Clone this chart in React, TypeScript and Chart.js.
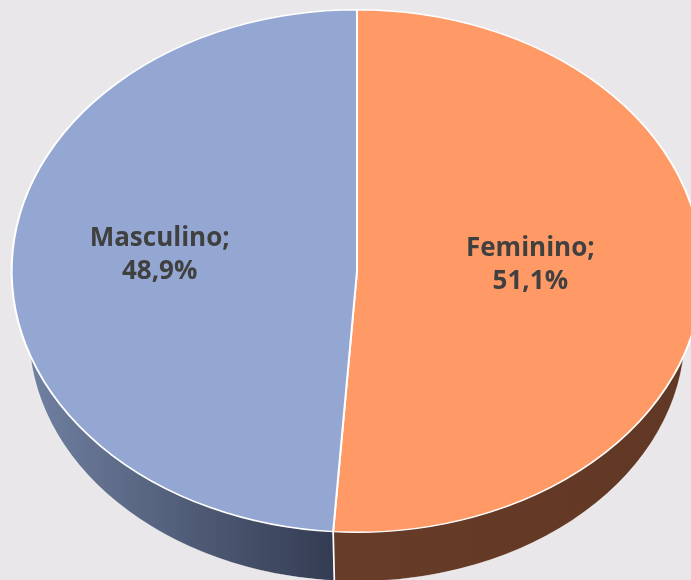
import { useEffect, useRef } from 'react';
import { Chart, registerables } from 'chart.js';

Chart.register(...registerables);

// ---- data ----
const categories = ['Feminino', 'Masculino'];
const values = [51.1, 48.9];
const valueLabels = values.map((v) => `${v.toFixed(1).replace('.', ',')}%`);

// ---- styles ----
const topColors = ['#ff9a66', '#94a7d2'];
const sideColors = [
  ['#673c28', '#613825'],
  ['#7484a5', '#333c52'],
];
const BG = '#e9e7ea';
const ASPECT = 345 / 261; // horizontal stretch of the tilted pie
const SIDE_DY = 62; // bottom rim centre drop
const SIDE_K = 0.95; // bottom rim shrink (perspective)
const LABEL_F = 0.537;
const LABEL_DX = -12;
const LABEL_DY = -13;

const pie3d = {
  id: 'pie3d',
  beforeDatasetsDraw(chart: any) {
    const meta = chart.getDatasetMeta(0);
    const arcs = meta.data;
    if (!arcs.length) return;
    const { x: cx, y: cy, outerRadius: R } = arcs[0];
    const ctx: CanvasRenderingContext2D = chart.ctx;
    ctx.save();
    ctx.translate(cx, cy);
    ctx.scale(ASPECT, 1);
    ctx.translate(-cx, -cy);
    const R2 = R * SIDE_K;
    const cy2 = cy + SIDE_DY;
    const dividers: number[] = [];
    arcs.forEach((arc: any, i: number) => {
      const s = arc.startAngle;
      const e = arc.endAngle;
      for (const off of [0, 2 * Math.PI, -2 * Math.PI]) {
        const a1 = Math.max(s, off);
        const a2 = Math.min(e, off + Math.PI);
        if (a2 <= a1) continue;
        ctx.beginPath();
        ctx.arc(cx, cy, R, a1, a2);
        ctx.lineTo(cx + R2 * Math.cos(a2), cy2 + R2 * Math.sin(a2));
        ctx.arc(cx, cy2, R2, a2, a1, true);
        ctx.closePath();
        const xl = cx + R * Math.cos(a2);
        const xr = cx + R * Math.cos(a1);
        const g = ctx.createLinearGradient(Math.min(xl, xr), 0, Math.max(xl, xr), 0);
        g.addColorStop(0, sideColors[i][0]);
        g.addColorStop(1, sideColors[i][1]);
        ctx.fillStyle = g;
        ctx.fill();
        // light rim edge at bottom
        ctx.beginPath();
        ctx.arc(cx, cy2, R2, a2, a1, true);
        ctx.strokeStyle = 'rgba(255,255,255,0.55)';
        ctx.lineWidth = 0.8;
        ctx.stroke();
        if (a1 > off + 0.001) dividers.push(a1);
      }
    });
    dividers.forEach((a) => {
      ctx.beginPath();
      ctx.moveTo(cx + R * Math.cos(a), cy + R * Math.sin(a));
      ctx.lineTo(cx + R2 * Math.cos(a), cy2 + R2 * Math.sin(a));
      ctx.strokeStyle = '#ffffff';
      ctx.lineWidth = 1.3;
      ctx.stroke();
    });
  },
  afterDatasetsDraw(chart: any) {
    const meta = chart.getDatasetMeta(0);
    if (!meta.data.length) return;
    chart.ctx.restore();
  },
  afterDraw(chart: any) {
    const meta = chart.getDatasetMeta(0);
    const arcs = meta.data;
    if (!arcs.length) return;
    const ctx: CanvasRenderingContext2D = chart.ctx;
    ctx.save();
    ctx.fillStyle = '#404040';
    ctx.font = 'bold 26px "Open Sans"';
    ctx.textAlign = 'center';
    ctx.textBaseline = 'alphabetic';
    arcs.forEach((arc: any, i: number) => {
      const mid = (arc.startAngle + arc.endAngle) / 2;
      const R = arc.outerRadius;
      const x = arc.x + ASPECT * R * LABEL_F * Math.cos(mid) + LABEL_DX;
      const y = arc.y + R * LABEL_F * Math.sin(mid) + LABEL_DY;
      ctx.fillText(`${categories[i]};`, x, y - 7);
      ctx.fillText(valueLabels[i], x, y + 26);
    });
    ctx.restore();
  },
};

export default function App() {
  const ref = useRef<HTMLCanvasElement>(null);
  useEffect(() => {
    if (!ref.current) return;
    const chart = new Chart(ref.current, {
      type: 'pie',
      data: {
        labels: categories,
        datasets: [
          {
            data: values,
            backgroundColor: topColors,
            borderColor: '#ffffff',
            borderWidth: 1.5,
            hoverOffset: 0,
            offset: 0,
          },
        ],
      },
      options: {
        animation: false,
        responsive: true,
        maintainAspectRatio: false,
        events: [],
        layout: { padding: { left: 95, right: 72, top: 9, bottom: 47 } },
        plugins: {
          legend: { display: false },
          tooltip: { enabled: false },
          title: { display: false },
        },
      },
      plugins: [pie3d],
    });
    return () => chart.destroy();
  }, []);
  return (
    <div
      style={{
        position: 'fixed',
        left: 0,
        top: 0,
        width: 691,
        height: 580,
        background: BG,
        overflow: 'hidden',
      }}
    >
      <canvas ref={ref} style={{ display: 'block' }} />
    </div>
  );
}
